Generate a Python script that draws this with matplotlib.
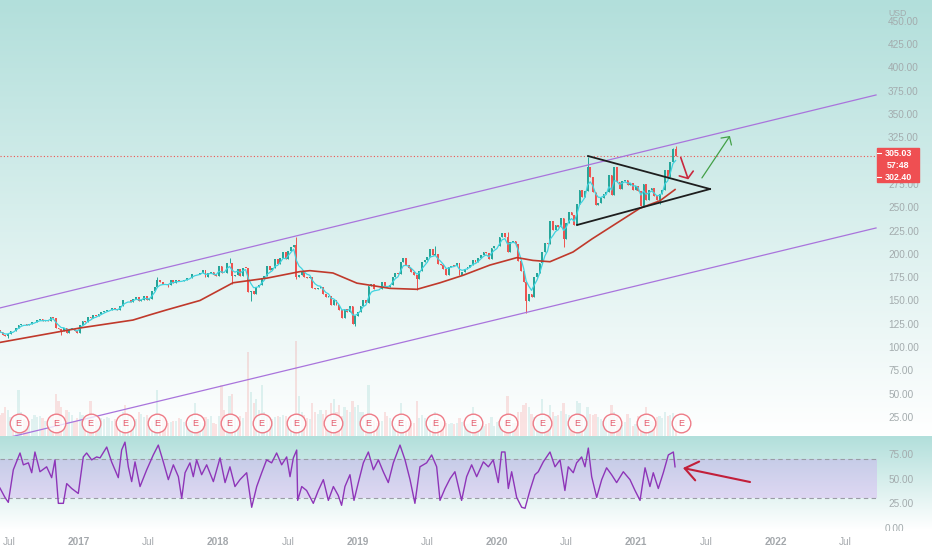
import numpy as np
import pandas as pd
import matplotlib
matplotlib.use('Agg')
import matplotlib.pyplot as plt
import matplotlib.transforms as mtransforms
from matplotlib.patches import Rectangle
from matplotlib.colors import to_rgb

plt.rcParams['font.family'] = ['Liberation Sans', 'DejaVu Sans']

# weekly closes (week ending friday)
first_open = 118.5
close_2016 = [116.6, 113.0, 112.3, 114.2, 117.2, 116.9, 121.0, 123.9, 125.2, 124.9,
              123.6, 124.9, 126.5, 127.1, 129.1, 129.9, 128.3, 129.0, 127.9, 132.1,
              131.3, 120.8, 119.0, 117.0, 120.4, 115.4, 119.7, 119.9, 117.3, 115.1]
close_2017 = [123.4, 128.3, 127.0, 132.2, 131.0, 134.2, 133.5, 135.4, 137.2, 138.7,
              139.8, 140.3, 142.1, 140.8, 139.4, 143.7, 150.3, 150.2, 150.3, 148.1,
              152.1, 153.6, 149.6, 150.6, 155.1, 151.0, 151.4, 160.0, 164.4, 172.5,
              169.6, 168.1, 167.4, 166.3, 172.0, 169.2, 171.6, 170.5, 170.9, 172.2,
              173.7, 174.6, 177.9, 178.9, 178.5, 179.0, 182.8, 175.1, 179.0, 180.2,
              177.2, 176.5]
close_2018 = [186.9, 179.4, 179.3, 190.0, 190.3, 176.1, 177.4, 183.3, 176.6, 185.2,
              185.1, 159.4, 159.8, 157.2, 164.5, 166.3, 174.2, 176.6, 187.0, 183.2,
              184.9, 194.0, 189.1, 195.9, 201.7, 194.3, 203.2, 207.3, 209.9, 174.9,
              177.8, 180.3, 174.7, 174.6, 175.7, 163.0, 162.3, 162.9, 164.5, 157.3,
              153.4, 154.9, 145.4, 150.4, 145.0, 139.5, 131.7, 140.6, 137.4, 144.1,
              125.0, 133.2]
close_2019 = [138.1, 144.2, 150.0, 147.5, 165.7, 167.3, 162.5, 161.9, 162.3, 169.6,
              166.0, 164.3, 166.7, 175.7, 179.1, 178.3, 191.5, 195.5, 188.3, 185.3,
              180.9, 177.5, 173.4, 181.3, 191.1, 193.0, 196.4, 204.9, 198.4, 199.8,
              189.0, 187.9, 183.7, 177.8, 185.7, 187.5, 187.2, 189.9, 177.1, 180.5,
              184.2, 185.9, 187.9, 193.6, 190.8, 195.1, 198.8, 201.6, 201.1, 194.1,
              206.3, 208.1]
close_2020 = [208.7, 218.3, 222.1, 217.9, 201.9, 212.3, 214.2, 210.2, 192.5, 181.1,
              170.3, 149.7, 156.8, 154.2, 175.2, 179.2, 190.1, 202.3, 212.0, 210.9,
              234.9, 225.1, 230.8, 228.6, 238.8, 216.1, 233.4, 245.1, 242.0, 230.7,
              253.7, 268.4, 261.2, 267.0, 293.7, 282.7, 266.6, 252.5, 254.8, 259.9,
              264.5, 265.9, 284.8, 263.1, 293.4, 277.0, 269.7, 277.8, 279.7, 273.6,
              276.4, 268.1]
close_2021 = [273.2, 267.6, 251.4, 274.5, 258.3, 268.1, 270.5, 261.6, 257.6, 264.3,
              268.4, 290.1, 283.0, 298.7, 312.5, 305.03]

# wick extremes that stick out of the bodies
hi_dates = ['2017-07-28', '2018-02-02', '2018-07-27', '2019-07-26', '2020-01-31',
            '2020-08-28', '2021-04-09', '2021-04-16']
hi_vals = [175.5, 195.3, 218.6, 208.7, 224.0, 304.0, 314.0, 315.5]
lo_dates = ['2016-07-01', '2016-11-18', '2017-08-25', '2018-02-09', '2018-03-30',
            '2018-07-27', '2018-12-28', '2019-06-07', '2020-03-20', '2020-06-26',
            '2021-03-05']
lo_vals = [110.0, 113.5, 165.0, 167.2, 149.0, 173.0, 123.0, 161.0, 137.1, 207.5, 253.5]

# weekly volume, millions
vol_2016 = [95, 105, 130, 120, 85, 80, 90, 210, 110, 75, 70, 70, 75, 95, 85, 90, 80, 70, 70, 85,
            100, 190, 160, 130, 80, 120, 110, 95, 70, 80]
vol_2017 = [110, 95, 80, 95, 160, 90, 75, 70, 80, 75, 85, 80, 70, 75, 60, 80, 110, 140, 90, 85,
            70, 75, 110, 100, 85, 95, 80, 70, 80, 210, 95, 80, 75, 60, 65, 70, 70, 80, 75, 65,
            60, 65, 95, 150, 70, 65, 60, 85, 75, 90, 60, 55]
vol_2018 = [90, 230, 120, 100, 180, 190, 95, 85, 90, 80, 110, 380, 200, 150, 170, 120, 230, 110, 90, 80,
            75, 85, 90, 85, 95, 90, 70, 75, 80, 430, 180, 110, 95, 80, 75, 150, 110, 100, 120, 100,
            120, 90, 150, 170, 110, 140, 90, 130, 120, 110, 160, 130]
vol_2019 = [140, 110, 110, 90, 230, 90, 70, 60, 60, 70, 110, 90, 80, 75, 60, 55, 150, 90, 70, 65,
            60, 60, 160, 80, 95, 80, 45, 75, 65, 110, 80, 70, 65, 60, 55, 60, 55, 60, 80, 65,
            55, 55, 60, 130, 70, 55, 55, 45, 55, 60, 85, 45]
vol_2020 = [65, 70, 75, 70, 180, 90, 60, 60, 110, 110, 140, 150, 130, 100, 85, 80, 85, 170, 90, 95,
            140, 110, 90, 95, 115, 150, 100, 95, 85, 85, 160, 150, 95, 80, 130, 100, 95, 100, 85, 75,
            70, 80, 85, 140, 110, 85, 70, 50, 65, 100, 80, 45]
vol_2021 = [55, 90, 85, 95, 130, 80, 70, 65, 85, 90, 80, 110, 90, 95, 105, 70]

# 200 day average, read at points (decimal year, price)
ma_t = [2016.435, 2017.009, 2017.389, 2017.511, 2017.633, 2017.870, 2018.107, 2018.351,
        2018.588, 2018.659, 2018.824, 2018.996, 2019.233, 2019.427, 2019.592, 2019.757,
        2019.950, 2020.144, 2020.259, 2020.381, 2020.546, 2020.682, 2021.027, 2021.170, 2021.278]
ma_v = [105, 120.5, 129, 134.6, 140, 150, 169, 174, 181, 182, 179.5, 168.6, 163, 162, 169, 177,
        188, 196, 193, 191.6, 202, 216, 249, 257, 269]

# RSI (decimal year, value)
rsi_t = [2016.435, 2016.471, 2016.495, 2016.531, 2016.579, 2016.603, 2016.639, 2016.663, 2016.686,
         2016.722, 2016.770, 2016.806, 2016.830, 2016.854, 2016.890, 2016.914, 2016.950, 2016.997,
         2017.033, 2017.057, 2017.093, 2017.129, 2017.153, 2017.201, 2017.236, 2017.284, 2017.308,
         2017.332, 2017.356, 2017.380, 2017.404, 2017.440, 2017.488, 2017.535, 2017.571, 2017.607,
         2017.643, 2017.679, 2017.715, 2017.739, 2017.763, 2017.798, 2017.822, 2017.846, 2017.882,
         2017.918, 2017.966, 2018.014, 2018.050, 2018.085, 2018.121, 2018.157, 2018.205, 2018.241,
         2018.277, 2018.313, 2018.348, 2018.384, 2018.420, 2018.456, 2018.492, 2018.516, 2018.540,
         2018.564, 2018.571, 2018.600, 2018.635, 2018.683, 2018.719, 2018.755, 2018.791, 2018.827,
         2018.862, 2018.886, 2018.910, 2018.946, 2018.975, 2019.006, 2019.042, 2019.078, 2019.114,
         2019.150, 2019.185, 2019.221, 2019.257, 2019.305, 2019.341, 2019.377, 2019.412, 2019.448,
         2019.496, 2019.532, 2019.568, 2019.592, 2019.628, 2019.664, 2019.699, 2019.747, 2019.783,
         2019.819, 2019.855, 2019.903, 2019.939, 2019.974, 2020.010, 2020.034, 2020.058, 2020.082,
         2020.106, 2020.142, 2020.178, 2020.202, 2020.237, 2020.273, 2020.297, 2020.333, 2020.381,
         2020.417, 2020.453, 2020.488, 2020.512, 2020.548, 2020.572, 2020.608, 2020.632, 2020.656,
         2020.680, 2020.716, 2020.752, 2020.787, 2020.823, 2020.859, 2020.907, 2020.955, 2020.991,
         2021.027, 2021.063, 2021.098, 2021.122, 2021.158, 2021.194, 2021.230, 2021.254, 2021.266,
         2021.278]
rsi_v = [40.5, 31, 26, 59, 76, 64, 66, 56, 77, 57, 62, 51, 69, 25, 25, 45, 40, 35,
         72, 76, 69, 72, 71, 82, 67, 51, 79, 87, 62, 47, 67, 42, 59, 74, 84, 67,
         49, 64, 52, 30, 56, 66, 52, 69, 54, 64, 47, 71, 46, 62, 42, 49, 56, 21,
         42, 56, 69, 66, 76, 64, 72, 52, 71, 79, 28, 42, 38, 25, 38, 49, 28, 42,
         33, 23, 42, 54, 28, 46, 66, 77, 59, 69, 57, 46, 66, 84, 69, 49, 25, 62,
         66, 74, 62, 28, 40, 50, 57, 28, 52, 64, 52, 67, 62, 69, 46, 77, 77, 40,
         57, 31, 21, 20, 38, 54, 57, 67, 77, 62, 69, 38, 62, 56, 66, 72, 62, 81,
         52, 31, 49, 61, 54, 46, 57, 49, 38, 28, 61, 42, 56, 40, 56, 74, 76, 77,
         62]

earnings = ['2016-07-27', '2016-11-02', '2017-02-01', '2017-05-03', '2017-07-26', '2017-11-01',
            '2018-01-31', '2018-04-25', '2018-07-25', '2018-10-30', '2019-01-30', '2019-04-24',
            '2019-07-24', '2019-10-30', '2020-01-29', '2020-04-29', '2020-07-30', '2020-10-29',
            '2021-01-27', '2021-04-28']

# price scale ticks (300 sits under the last price label)
price_ticks = [25, 50, 75, 100, 125, 150, 175, 200, 225, 250, 275, 325, 350, 375, 400, 425, 450]

# drawings: channel, triangle, arrows (decimal year, price)
chan_t = [2016.435, 2022.72]
chan_upper = [142.0, 370.5]
chan_lower = [0.8, 227.8]
tri_top_t, tri_top_v = [2020.654, 2021.529], [305.0, 269.6]
tri_bot_t, tri_bot_v = [2020.575, 2021.529], [231.0, 269.6]
last_price = 305.03


def yfrac(d):
    d = pd.DatetimeIndex(d)
    days = np.where(d.is_leap_year, 366, 365)
    return np.asarray(d.year + (d.dayofyear - 1) / days)


closes = np.array(close_2016 + close_2017 + close_2018 + close_2019 + close_2020 + close_2021)
vols = np.array(vol_2016 + vol_2017 + vol_2018 + vol_2019 + vol_2020 + vol_2021)
weeks = pd.date_range('2016-06-10', periods=len(closes), freq='W-FRI')
xs = yfrac(weeks - pd.Timedelta(days=2))
opens = np.r_[first_open, closes[:-1]]
highs = np.maximum(opens, closes)
lows = np.minimum(opens, closes)
for d, v in zip(hi_dates, hi_vals):
    i = weeks.get_loc(pd.Timestamp(d))
    highs[i] = max(highs[i], v)
for d, v in zip(lo_dates, lo_vals):
    i = weeks.get_loc(pd.Timestamp(d))
    lows[i] = min(lows[i], v)
fast_ma = pd.Series(closes).ewm(span=4, adjust=False).mean().values

W, H = 932, 550
fig = plt.figure(figsize=(W / 100, H / 100), dpi=100)

# background gradients
top = np.array(to_rgb('#b2dfdb'))
white = np.array([1.0, 1.0, 1.0])
f = np.zeros(H)
f[:436] = np.linspace(0, 1, 436)
f[436:530] = np.linspace(0, 1, 94)
f[530:] = 1
grad = top[None, :] * (1 - f[:, None]) + white[None, :] * f[:, None]
bg = fig.add_axes([0, 0, 1, 1], zorder=-10)
bg.imshow(grad[:, None, :], aspect='auto', extent=[0, 1, 0, 1], interpolation='nearest')
bg.axis('off')

xlim = (2016.4354, 2022.727)
pw = 877 / W
rect_main = [0, 1 - 436 / H, pw, 436 / H]

axv = fig.add_axes(rect_main, zorder=1)
axv.patch.set_alpha(0)
axv.axis('off')
up = closes >= opens
wk = 7 / 365.25
axv.bar(xs[up], vols[up], width=wk * 0.8, color='#26a69a', alpha=0.13, lw=0)
axv.bar(xs[~up], vols[~up], width=wk * 0.8, color='#ef5350', alpha=0.16, lw=0)
axv.set_xlim(xlim)
axv.set_ylim(0, 1980)

ax = fig.add_axes(rect_main, zorder=2)
ax.patch.set_alpha(0)
for s in ax.spines.values():
    s.set_visible(False)
ax.set_xlim(xlim)
ax.set_ylim(4.6, 472.4)

cols = np.where(up, '#26a69a', '#ef5350')
ax.vlines(xs, lows, highs, colors=cols, lw=0.7, zorder=3)
ax.bar(xs, np.maximum(np.abs(closes - opens), 0.4), bottom=np.minimum(opens, closes),
       width=wk * 0.7, color=cols, lw=0, zorder=3)
ax.plot(xs, fast_ma, color='#40d3df', lw=0.9, zorder=4)
ax.plot(ma_t, ma_v, color='#c0392b', lw=1.2, zorder=4)

ax.plot(chan_t, chan_upper, color='#a974dc', lw=0.9, zorder=3)
ax.plot(chan_t, chan_lower, color='#a974dc', lw=0.9, zorder=3)
ax.plot(tri_top_t, tri_top_v, color='#1e1e1e', lw=1.3, zorder=5)
ax.plot(tri_bot_t, tri_bot_v, color='#1e1e1e', lw=1.3, zorder=5)
ax.axhline(last_price, color='#ef5350', lw=0.8, ls=(0, (1, 2)), zorder=2)

ax.annotate('', xy=(2021.373, 280.0), xytext=(2021.319, 303.4),
            arrowprops=dict(arrowstyle='->, head_length=0.37, head_width=0.53', color='#c9283e',
                            lw=1.2, mutation_scale=10, shrinkA=0, shrinkB=0), zorder=6)
ax.annotate('', xy=(2021.672, 326.5), xytext=(2021.471, 281.5),
            arrowprops=dict(arrowstyle='->, head_length=0.42, head_width=0.45', color='#43a047',
                            lw=0.9, mutation_scale=10, shrinkA=0, shrinkB=0), zorder=6)

# earnings markers
et = yfrac(earnings)
blend = mtransforms.blended_transform_factory(ax.transData, ax.transAxes)
ey = 13 / 436
ax.scatter(et, np.full(len(et), ey), s=180, marker='o', facecolor=(1, 1, 1, 0.75),
           edgecolor='#ee7c88', lw=1.0, transform=blend, zorder=8, clip_on=False)
for t in et:
    ax.text(t, ey, 'E', transform=blend, ha='center', va='center', fontsize=6.5,
            color='#e4596a', zorder=9)

ax.yaxis.tick_right()
ax.set_yticks(price_ticks)
ax.set_yticklabels([f'{v:.2f}' for v in price_ticks])
ax.tick_params(axis='y', length=0, pad=8, labelsize=7.2, labelcolor='#a3abad')
ax.tick_params(axis='x', length=0, labelbottom=False)

# RSI pane
axr = fig.add_axes([0, 1 - 530 / H, pw, 94 / H], zorder=2)
axr.patch.set_alpha(0)
for s in axr.spines.values():
    s.set_visible(False)
axr.set_xlim(xlim)
axr.set_ylim(-2.0, 93.2)
axr.fill_between(xlim, 30, 70, color='#cd82f5', alpha=0.25, lw=0)
axr.axhline(70, color='#9a9ca6', lw=0.8, ls=(0, (4, 3)))
axr.axhline(30, color='#9a9ca6', lw=0.8, ls=(0, (4, 3)))
axr.plot(rsi_t, rsi_v, color='#8e35b8', lw=1.0)
axr.annotate('', xy=(2021.335, 60.8), xytext=(2021.816, 46.6),
             arrowprops=dict(arrowstyle='->, head_length=0.8, head_width=0.6', color='#c21f3a',
                             lw=1.5, mutation_scale=11.5, shrinkA=0, shrinkB=0))
axr.yaxis.tick_right()
axr.set_yticks([25, 50, 75])
axr.set_yticklabels(['25.00', '50.00', '75.00'])
axr.tick_params(axis='y', length=0, pad=8, labelsize=7.2, labelcolor='#a3abad')

xt = [2016.5, 2017, 2017.5, 2018, 2018.5, 2019, 2019.5, 2020, 2020.5, 2021, 2021.5, 2022, 2022.5]
xl = ['Jul', '2017', 'Jul', '2018', 'Jul', '2019', 'Jul', '2020', 'Jul', '2021', 'Jul', '2022', 'Jul']
axr.set_xticks(xt)
axr.set_xticklabels(xl)
axr.tick_params(axis='x', length=0, pad=5, labelsize=7.2, labelcolor='#a4a8ac')
for lab in axr.get_xticklabels():
    if lab.get_text() != 'Jul':
        lab.set_fontweight('bold')

zero = fig.text(885 / W, 1 - 529 / H, '0.00', ha='left', va='center', fontsize=7.2, color='#a3abad')
zero.set_clip_box(mtransforms.TransformedBbox(mtransforms.Bbox([[0, 1 - 530.5 / H], [1, 1]]),
                                              fig.transFigure))
zero.set_clip_on(True)

fig.text(898 / W, 1 - 13 / H, 'USD', ha='center', va='center', fontsize=6.3, color='#a3abad')

# last price label
fig.add_artist(Rectangle((877 / W, 1 - 182 / H), 42 / W, 34 / H, transform=fig.transFigure,
                         color='#ef4f52', zorder=10))
for yy, txt in [(153, '305.03'), (165, '57:48'), (177, '302.40')]:
    fig.text(898 / W, 1 - yy / H, txt, ha='center', va='center', fontsize=6.4, color='white',
             fontweight='bold', zorder=11)
for yy in (153, 177):
    fig.add_artist(plt.Line2D([877 / W, 881 / W], [1 - yy / H, 1 - yy / H], color='white',
                              lw=0.8, transform=fig.transFigure, zorder=11))

fig.savefig('out.png', dpi=100)
